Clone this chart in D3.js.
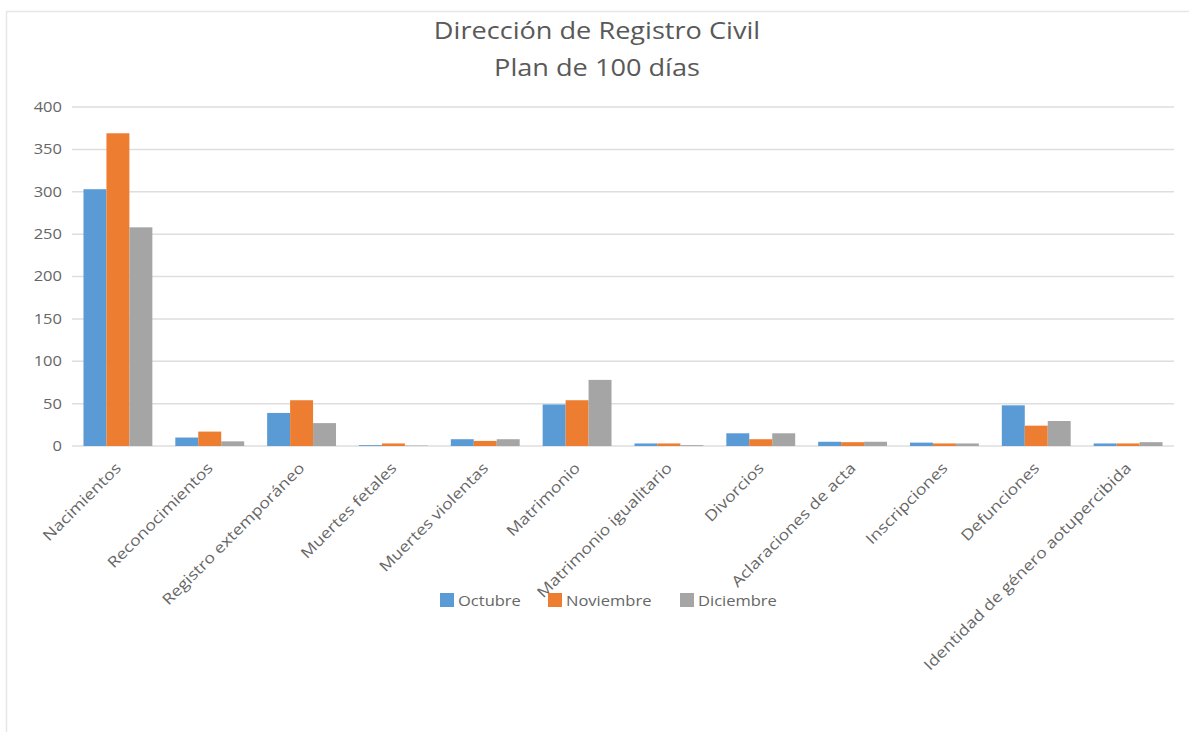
<!DOCTYPE html>
<html>
<head>
<meta charset="utf-8">
<script src="https://cdn.jsdelivr.net/npm/d3@7"></script>
<style>
  body { margin: 0; background: #fff; }
  svg { display: block; }
</style>
</head>
<body>
<div id="chart"></div>
<script>
// Chart data
const categories = [
  'Nacimientos', 'Reconocimientos', 'Registro extemporáneo', 'Muertes fetales',
  'Muertes violentas', 'Matrimonio', 'Matrimonio igualitario', 'Divorcios',
  'Aclaraciones de acta', 'Inscripciones', 'Defunciones', 'Identidad de género aotupercibida'
];
const seriesNames = ['Octubre', 'Noviembre', 'Diciembre'];
const octubre   = [303, 10, 39, 1, 8, 49, 3, 15, 5, 4, 48, 3];
const noviembre = [369, 17, 54, 3, 6, 54, 3, 8, 4.5, 3, 24, 3];
const diciembre = [258, 5.5, 27, 0.5, 8, 78, 1, 15, 5, 3, 29.5, 4.5];
const yTicks = [0, 50, 100, 150, 200, 250, 300, 350, 400];

const colors = ['#5b9bd5', '#ed7d31', '#a5a5a5'];
const W = 1189, H = 732;
const margin = { left: 72, right: 15, top: 107, bottom: 286 };
const SX = 1.18; // the picture is a bit wider than tall, text too
const font = '"Open Sans", sans-serif';
const textColor = '#666666';

const svg = d3.select('#chart').append('svg')
  .attr('width', W).attr('height', H);

// Chart frame
svg.append('path')
  .attr('d', `M6.5,${H} V11.5 H${W}`)
  .attr('fill', 'none')
  .attr('stroke', '#e6e6e6')
  .attr('stroke-width', 1.5);

// Title
const title = svg.append('text')
  .attr('transform', `translate(597,0) scale(${SX},1)`)
  .attr('text-anchor', 'middle')
  .attr('fill', '#595959')
  .attr('font-family', font)
  .attr('font-size', 23);
title.append('tspan').attr('x', 0).attr('y', 39).text('Dirección de Registro Civil');
title.append('tspan').attr('x', 0).attr('y', 76).text('Plan de 100 días');

const x0 = d3.scaleBand()
  .domain(categories)
  .range([margin.left, W - margin.right])
  .paddingInner(0.25)
  .paddingOuter(0.125);

const x1 = d3.scaleBand()
  .domain(seriesNames)
  .range([0, x0.bandwidth()]);

const y = d3.scaleLinear()
  .domain([0, 400])
  .range([H - margin.bottom, margin.top]);

// Gridlines
svg.append('g')
  .selectAll('line')
  .data(yTicks)
  .enter().append('line')
  .attr('x1', margin.left).attr('x2', W - margin.right)
  .attr('y1', d => y(d)).attr('y2', d => y(d))
  .attr('stroke', '#dedede')
  .attr('stroke-width', 1.5);

// Y axis labels
svg.append('g')
  .selectAll('text')
  .data(yTicks)
  .enter().append('text')
  .attr('transform', d => `translate(${margin.left - 10},${y(d)}) scale(${SX},1)`)
  .attr('dy', '0.35em')
  .attr('text-anchor', 'end')
  .attr('fill', textColor)
  .attr('font-family', font)
  .attr('font-size', 14)
  .text(d => d);

// Bars
const data = categories.map((c, i) => ({
  cat: c,
  vals: [octubre[i], noviembre[i], diciembre[i]]
}));

const groups = svg.append('g')
  .selectAll('g')
  .data(data)
  .enter().append('g')
  .attr('transform', d => `translate(${x0(d.cat)},0)`);

groups.selectAll('rect')
  .data(d => d.vals.map((v, j) => ({ name: seriesNames[j], v, j })))
  .enter().append('rect')
  .attr('x', d => x1(d.name))
  .attr('width', x1.bandwidth())
  .attr('y', d => y(d.v))
  .attr('height', d => y(0) - y(d.v))
  .attr('fill', d => colors[d.j]);

// Category labels, rotated 45 degrees
svg.append('g')
  .selectAll('text')
  .data(categories)
  .enter().append('text')
  .attr('transform', d => `translate(${x0(d) + x0.bandwidth() / 2 + 4},${y(0) + 23}) rotate(-45) scale(${SX},1)`)
  .attr('text-anchor', 'end')
  .attr('fill', textColor)
  .attr('font-family', font)
  .attr('font-size', 15)
  .text(d => d);

// Legend
const legendX = [440, 548, 680];
const legend = svg.append('g')
  .selectAll('g')
  .data(seriesNames)
  .enter().append('g')
  .attr('transform', (d, i) => `translate(${legendX[i]},593)`);
legend.append('rect')
  .attr('width', 14).attr('height', 14)
  .attr('fill', (d, i) => colors[i]);
legend.append('text')
  .attr('transform', `translate(18,13) scale(${SX},1)`)
  .attr('fill', textColor)
  .attr('font-family', font)
  .attr('font-size', 14)
  .text(d => d);
</script>
</body>
</html>
